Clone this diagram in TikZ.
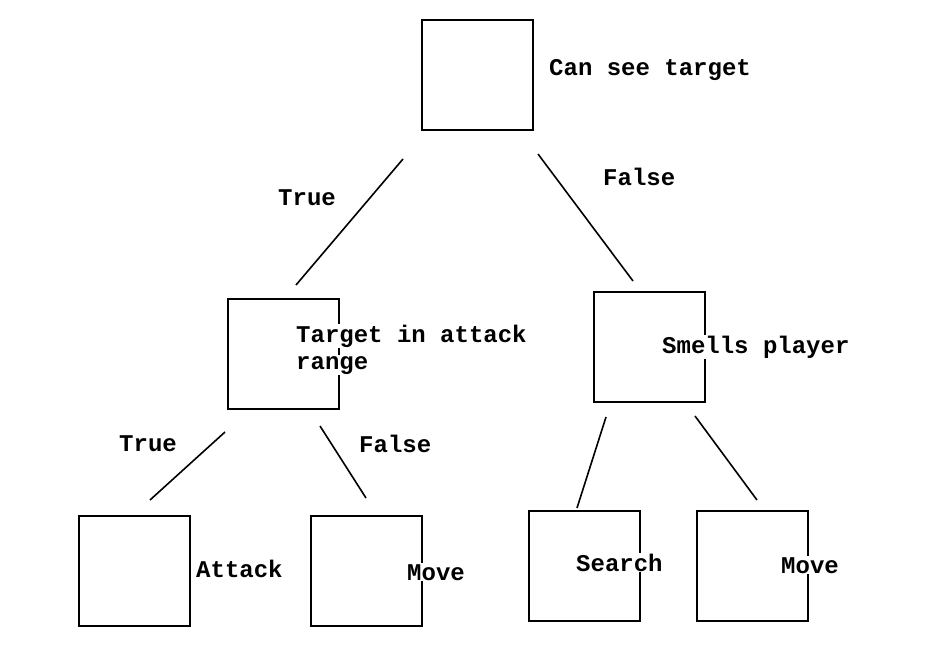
\documentclass[tikz,border=0pt]{standalone}
\usepackage{fontspec}
\newfontfamily\courbold{Liberation Mono}[BoldFont={Liberation Mono Bold}]
\begin{document}
\begin{tikzpicture}[x=1pt,y=-1pt,
  box/.style={draw=black,line width=1.7pt,minimum width=111pt,minimum height=110pt,inner sep=0pt},
  lbl/.style={anchor=base west,fill=white,inner sep=1pt,font=\courbold\bfseries\fontsize{24}{26}\selectfont},
  edge/.style={draw=black,line width=1.6pt}]
\useasboundingbox (0,0) rectangle (925,651);
% boxes
\node[box] (root) at (477.5,75) {};
\node[box] (range) at (283.5,354) {};
\node[box] (smell) at (649.5,347) {};
\node[box] (attack) at (134.5,571) {};
\node[box] (move1) at (366.5,571) {};
\node[box] (search) at (584.5,566) {};
\node[box] (move2) at (752.5,566) {};
% connector ends
\coordinate (a1) at (403,159); \coordinate (a2) at (296,285);
\coordinate (b1) at (538,154); \coordinate (b2) at (633,281);
\coordinate (c1) at (225,432); \coordinate (c2) at (150,500);
\coordinate (d1) at (320,426); \coordinate (d2) at (366,498);
\coordinate (e1) at (606,417); \coordinate (e2) at (577,508);
\coordinate (f1) at (695,416); \coordinate (f2) at (757,500);
\draw[edge] (a1) -- (a2);
\draw[edge] (b1) -- (b2);
\draw[edge] (c1) -- (c2);
\draw[edge] (d1) -- (d2);
\draw[edge] (e1) -- (e2);
\draw[edge] (f1) -- (f2);
% labels
\node[lbl] (troot) at (548,75) {Can see target};
\node[lbl] (t1) at (277,205) {True};
\node[lbl] (f1l) at (602,185) {False};
\node[lbl] (trange) at (295,342) {Target in attack};
\node[lbl] (trange2) at (295,369) {range};
\node[lbl] (tsmell) at (661,353) {Smells player};
\node[lbl] (t2) at (118,451) {True};
\node[lbl] (f2l) at (358,452) {False};
\node[lbl] (tattack) at (195,577) {Attack};
\node[lbl] (tmove1) at (406,580) {Move};
\node[lbl] (tsearch) at (575,571) {Search};
\node[lbl] (tmove2) at (780,573) {Move};
\end{tikzpicture}
\end{document}
